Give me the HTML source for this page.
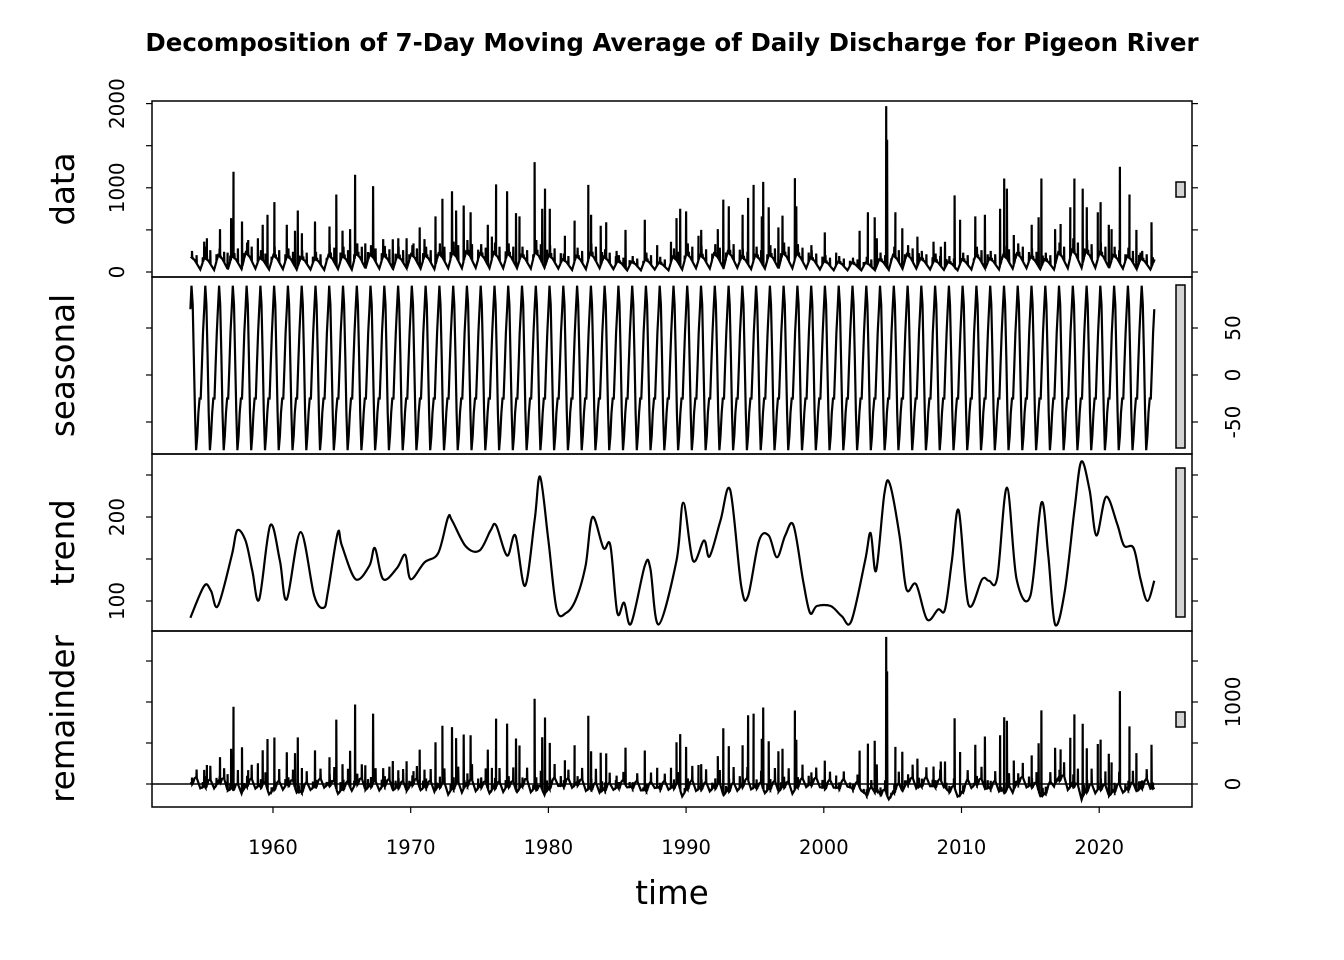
<!DOCTYPE html>
<html><head><meta charset="utf-8"><style>
html,body{margin:0;padding:0;background:#fff;}
svg{display:block;font-family:"DejaVu Sans","Liberation Sans",sans-serif;}
</style></head><body>
<svg id="chart" width="1344" height="960" viewBox="0 0 1344 960">
<text x="672" y="51" text-anchor="middle" font-size="24.5" font-weight="bold">Decomposition of 7-Day Moving Average of Daily Discharge for Pigeon River</text>
<defs>
<clipPath id="c1"><rect x="152" y="101" width="1040" height="176"/></clipPath>
<clipPath id="c2"><rect x="152" y="277" width="1040" height="177"/></clipPath>
<clipPath id="c3"><rect x="152" y="454" width="1040" height="177"/></clipPath>
<clipPath id="c4"><rect x="152" y="631" width="1040" height="176"/></clipPath>
</defs>
<g id="plots"></g>
<g id="axes"></g>
</svg>
<script>
// ---- data ----
const years0 = 1954;
const winterV = [180,170,200,190,230,170,200,190,170,160,200,190,220,210,200,190,210,200,220,230,240,220,230,220,200,240,200,150,190,220,180,130,120,150,110,180,220,200,220,240,180,200,210,230,220,170,130,120,110,110,150,200,210,160,140,120,150,200,160,200,220,180,150,230,260,250,230,200,190,160,150];
const lowV = [30,25,30,35,40,30,35,30,30,25,35,30,40,40,35,40,40,35,45,45,50,45,45,45,40,50,40,25,35,45,35,20,20,30,20,30,45,40,45,50,35,40,40,45,45,30,20,20,20,20,25,40,40,30,25,20,30,40,30,40,45,35,30,45,50,50,45,40,35,30,30];
const minorA = [250,300,280,320,350,260,300,280,260,240,330,300,340,320,310,300,320,300,340,360,380,330,350,340,300,380,320,220,290,340,270,200,190,230,180,280,340,310,330,380,280,300,320,350,330,260,200,190,170,180,230,300,320,250,220,190,230,300,250,310,340,280,230,350,400,380,350,300,290,250,200];
const minorB = [200,260,240,280,300,220,260,240,230,210,290,260,300,280,270,260,280,260,300,320,330,290,300,300,260,330,280,190,250,300,230,170,160,200,150,240,300,270,290,330,240,260,280,300,290,220,170,160,150,150,200,260,280,210,190,160,200,260,210,270,300,240,200,300,350,330,300,260,250,210,180];
const spikeT = [1955.0,1955.2,1956.15,1956.7,1956.96,1957.13,1957.75,1958.2,1958.9,1959.25,1959.6,1960.1,1961.0,1961.6,1961.8,1962.1,1963.05,1964.1,1964.6,1965.05,1965.6,1965.96,1966.7,1967.27,1968.0,1968.7,1969.1,1969.7,1970.2,1970.65,1971.0,1971.8,1972.3,1973.0,1973.3,1973.85,1974.35,1975.6,1975.9,1976.2,1977.0,1977.65,1977.9,1979.0,1979.55,1979.75,1980.1,1981.2,1981.9,1982.9,1983.1,1983.8,1984.2,1984.95,1985.6,1987.0,1987.9,1988.9,1989.3,1989.57,1990.0,1990.9,1991.1,1992.3,1992.7,1993.1,1994.1,1994.5,1994.9,1995.5,1995.6,1996.0,1996.7,1997.0,1997.9,1998.0,1999.1,2000.07,2000.9,2002.6,2003.2,2003.7,2003.85,2004.53,2004.6,2005.2,2005.7,2006.8,2007.97,2008.5,2008.8,2009.5,2009.9,2011.0,2011.7,2012.8,2013.1,2013.3,2013.8,2015.1,2015.6,2015.8,2016.8,2017.2,2017.9,2018.2,2018.8,2019.1,2019.9,2020.1,2020.7,2020.9,2021.5,2022.2,2022.7,2023.0,2023.8];
const spikeV = [360,400,510,230,640,1190,600,380,400,560,680,830,560,490,730,460,600,540,920,490,510,1155,340,1020,390,390,400,400,340,530,390,660,870,960,730,790,710,560,420,1040,960,700,660,1305,750,990,750,430,610,1035,680,550,590,250,500,620,320,360,640,750,720,430,500,510,860,780,680,880,1035,660,1070,770,530,670,1115,780,320,470,230,490,710,650,400,1970,1570,710,520,420,360,300,360,910,620,660,680,750,1110,990,440,560,650,1110,510,570,770,1110,990,770,710,830,560,510,1250,920,500,230,590];
const trendT = [1954,1955,1955.5,1956,1957,1957.4,1958,1958.5,1959,1959.8,1960.5,1961,1962,1963,1963.7,1964,1964.7,1965,1966,1967,1967.4,1968,1969,1969.6,1970,1971,1972,1972.7,1973,1974,1975,1975.8,1976.2,1977,1977.6,1978.3,1979,1979.4,1980,1980.6,1981.3,1982,1982.7,1983.2,1984,1984.5,1985,1985.5,1986,1987,1987.4,1988,1989.3,1989.8,1990.5,1991.3,1991.7,1992.5,1993.2,1994,1994.5,1995.3,1996,1996.6,1997.2,1997.8,1998.5,1999,1999.5,2000.5,2001.3,2002,2003,2003.4,2003.8,2004.4,2004.8,2005.5,2006,2006.7,2007.5,2008.3,2008.8,2009.3,2009.8,2010.5,2011.5,2012,2012.6,2013.3,2014,2015,2015.8,2016.3,2016.8,2017.5,2018.2,2018.7,2019.3,2019.8,2020.5,2021.3,2021.8,2022.5,2023,2023.5,2024];
const trendV = [80,118,112,94,154,184,172,136,102,190,148,102,182,106,92,112,181,166,126,142,163,126,139,155,126,146,157,199,196,165,160,184,190,154,178,118,196,248,172,90,86,102,142,200,163,166,86,98,73,142,139,72,148,217,148,172,153,196,232,118,106,172,178,152,178,190,124,86,94,94,82,76,148,181,136,228,239,178,114,120,78,90,90,148,208,96,126,124,128,235,126,106,217,154,72,112,208,266,232,178,224,192,166,163,126,100,124];
const seasonalMonthly = [70,95,75,20,-40,-80,-65,-40,-25,-25,10,45];

// ---- scales ----
const X = t => 273 + (t-1960)*13.77;
const dataY = v => 272 - v*0.0842;
const seasY = v => 375 - v*0.94;
const trendY = v => 601 - (v-100)*0.84;
const remY = v => 784 - v*0.082;
const NS='http://www.w3.org/2000/svg';
const plots=document.getElementById('plots'), axes=document.getElementById('axes');
function mk(tag,attrs,parent){const e=document.createElementNS(NS,tag);for(const k in attrs)e.setAttribute(k,attrs[k]);parent.appendChild(e);return e;}
function interp(ts,vs,t){if(t<=ts[0])return vs[0];for(let i=1;i<ts.length;i++){if(t<=ts[i]){const f=(t-ts[i-1])/(ts[i]-ts[i-1]);return vs[i-1]+f*(vs[i]-vs[i-1]);}}return vs[vs.length-1];}

// base
const baseT=[],baseV=[];
for(let i=0;i<=70;i++){const yr=years0+i;const w=winterV[i]??150,l=lowV[i]??30;
 baseT.push(yr+0.02);baseV.push(w);if(yr<2024){baseT.push(yr+0.3);baseV.push(w*0.8);baseT.push(yr+0.72);baseV.push(l);}}
let pts=baseT.map((t,i)=>[t,baseV[i]]);
function addSpike(t,v){pts.push([t-0.012,interp(baseT,baseV,t-0.012)]);pts.push([t,v]);pts.push([t+0.018,interp(baseT,baseV,t+0.018)]);}
spikeT.forEach((t,i)=>addSpike(t,spikeV[i]));
for(let i=0;i<70;i++){const yr=years0+i;addSpike(yr+0.12,minorA[i]);addSpike(yr+0.2,minorB[i]*0.8);addSpike(yr+0.45,minorB[i]);addSpike(yr+0.9,minorA[i]*0.7);}
pts.sort((a,b)=>a[0]-b[0]);
pts=pts.filter(p=>p[0]>=1954&&p[0]<=2024.02);

// seasonal
const seasT=[],seasV=[];
for(let yr=1954;yr<2024;yr++)for(let m=0;m<12;m++){seasT.push(yr+m/12);seasV.push(seasonalMonthly[m]);}
seasT.push(2024);seasV.push(seasonalMonthly[0]);

const dl=mk('path',{d:pts.map((p,i)=>(i?'L':'M')+X(p[0]).toFixed(1)+','+dataY(p[1]).toFixed(1)).join(''),fill:'none',stroke:'#000','stroke-width':2.2,'clip-path':'url(#c1)'},plots);


const sl=mk('path',{d:seasT.map((t,i)=>(i?'L':'M')+X(t).toFixed(1)+','+seasY(seasV[i]).toFixed(1)).join(''),fill:'none',stroke:'#000','stroke-width':2.2,'clip-path':'url(#c2)'},plots);


let td='';const tp=trendT.map((t,i)=>[X(t),trendY(trendV[i])]);
tp.forEach((p,i)=>{if(!i){td='M'+p[0]+','+p[1];return;}const p0=tp[i-2]||tp[i-1],p1=tp[i-1],p3=tp[i+1]||p;
 td+='C'+(p1[0]+(p[0]-p0[0])/6).toFixed(1)+','+(p1[1]+(p[1]-p0[1])/6).toFixed(1)+' '+(p[0]-(p3[0]-p1[0])/6).toFixed(1)+','+(p[1]-(p3[1]-p1[1])/6).toFixed(1)+' '+p[0].toFixed(1)+','+p[1].toFixed(1);});
const tl=mk('path',{d:td,fill:'none',stroke:'#000','stroke-width':2.2,'clip-path':'url(#c3)'},plots);


const zl=mk('line',{x1:152,x2:1192,y1:remY(0),y2:remY(0),stroke:'#000','stroke-width':1.5},plots);


const rp=pts.map(p=>[p[0],p[1]-interp(trendT,trendV,p[0])-interp(seasT,seasV,p[0])]);
const rl=mk('path',{d:rp.map((p,i)=>(i?'L':'M')+X(p[0]).toFixed(1)+','+remY(p[1]).toFixed(1)).join(''),fill:'none',stroke:'#000','stroke-width':2.2,'clip-path':'url(#c4)'},plots);



const panels=[{n:'data',y0:101,y1:277,sc:dataY,ticks:[0,500,1000,1500,2000],labs:[0,1000,2000],side:'L',bar:[182,197]},
{n:'seasonal',y0:277,y1:454,sc:seasY,ticks:[-50,0,50],labs:[-50,0,50],side:'R',bar:[285,448]},
{n:'trend',y0:454,y1:631,sc:trendY,ticks:[100,150,200,250],labs:[100,200],side:'L',bar:[468,617]},
{n:'remainder',y0:631,y1:807,sc:remY,ticks:[0,500,1000,1500],labs:[0,1000],side:'R',bar:[712,727]}];
panels.forEach(p=>{
 const r=mk('rect',{x:152,y:p.y0,width:1040,height:p.y1-p.y0,fill:'none',stroke:'#000','stroke-width':1.5},axes);
 
 
 p.ticks.forEach(v=>{const y=p.sc(v);
  mk('line',{x1:146,x2:152,y1:y,y2:y,stroke:'#000','stroke-width':1.2},axes);
  mk('line',{x1:1192,x2:1198,y1:y,y2:y,stroke:'#000','stroke-width':1.2},axes);});
 p.labs.forEach(v=>{const y=p.sc(v);const x=p.side==='L'?124:1240;
  const t=mk('text',{x:x,y:y,transform:`rotate(-90 ${x} ${y})`,'text-anchor':'middle','font-size':20},axes);t.textContent=v;
  
  });
 const b=mk('rect',{x:1176,y:p.bar[0],width:9,height:p.bar[1]-p.bar[0],fill:'#d3d3d3',stroke:'#000','stroke-width':1.5},axes);
 
 
 const cy=(p.y0+p.y1)/2;
 const tt=mk('text',{x:74,y:cy,transform:`rotate(-90 74 ${cy})`,'text-anchor':'middle','font-size':32.5},axes);tt.textContent=p.n;
 
 
});
[1960,1970,1980,1990,2000,2010,2020].forEach(yr=>{const x=X(yr);
 mk('line',{x1:x,x2:x,y1:807,y2:813,stroke:'#000','stroke-width':1.2},axes);
 const t=mk('text',{x:x,y:854,'text-anchor':'middle','font-size':19.5},axes);t.textContent=yr;
 
 });
const xt=mk('text',{x:672,y:904,'text-anchor':'middle','font-size':32.5},axes);xt.textContent='time';


</script>
</body></html>
